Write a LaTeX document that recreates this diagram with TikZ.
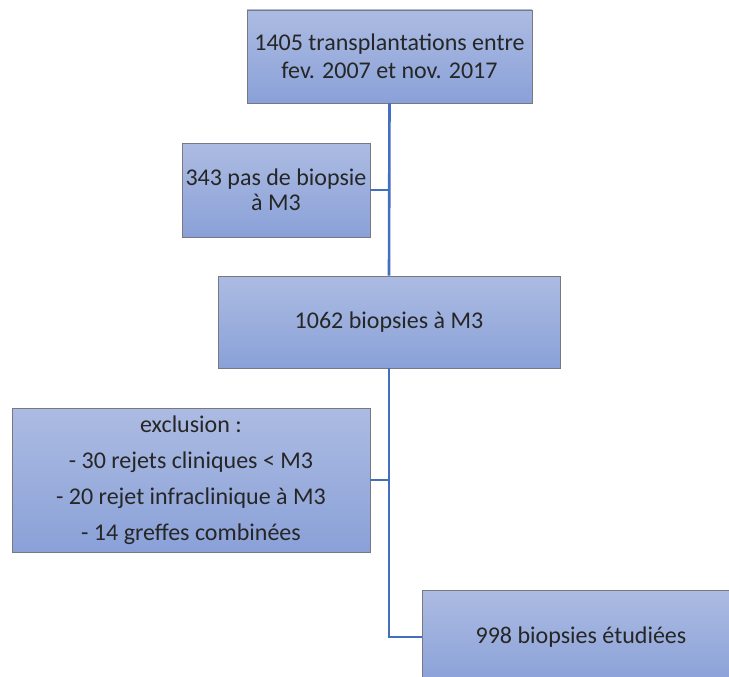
\documentclass[tikz,border=0pt]{standalone}
\usepackage{fontspec}
\setmainfont{Carlito}
\usetikzlibrary{positioning}

\definecolor{boxtop}{RGB}{172,187,226}
\definecolor{boxbottom}{RGB}{138,161,216}
\definecolor{boxedge}{RGB}{120,120,130}
\definecolor{linkblue}{RGB}{68,110,190}

\begin{document}
\begin{tikzpicture}[
    x=1pt, y=-1pt,
    flowbox/.style={draw=boxedge, line width=0.8pt, top color=boxtop, bottom color=boxbottom,
      align=center, inner sep=0pt, text=black!85,
      font=\fontsize{24}{27.5}\selectfont},
    link/.style={draw=linkblue, line width=2.6pt}
  ]

    % Page frame
    \useasboundingbox (0,0) rectangle (729,677);
    \clip (0,0) rectangle (729,677);

    % Main boxes
    \node[flowbox, minimum width=285pt, minimum height=93pt] (total) at (389.5,56.5)
      {1405 transplantations entre\\fev. 2007 et nov. 2017};
    \node[flowbox, minimum width=342pt, minimum height=92pt] (biopsies) at (389,322)
      {1062 biopsies à M3};
    \node[flowbox, minimum width=318pt, minimum height=94pt] (studied) at (581,637)
      {998 biopsies étudiées};

    % Side boxes
    \node[flowbox, minimum width=188pt, minimum height=94pt,
      font=\fontsize{24}{25}\selectfont] (nobiopsy) at (276,190)
      {343 pas de biopsie\\à M3};
    \node[flowbox, minimum width=358pt, minimum height=144pt,
      font=\fontsize{24}{36}\selectfont] (exclusion) at (191,480)
      {exclusion :\\- 30 rejets cliniques < M3\\- 20 rejet infraclinique à M3\\- 14 greffes combinées};

    % Connectors
    \coordinate (bend) at (biopsies.south |- studied.west);
    \draw[link] (total.south) -- (biopsies.north);
    \draw[link] (nobiopsy.east) -- (nobiopsy.east -| total.south);
    \draw[link] (biopsies.south) -- (bend) -- (studied.west);
    \draw[link] (exclusion.east) -- (exclusion.east -| biopsies.south);

  \end{tikzpicture}
\end{document}
